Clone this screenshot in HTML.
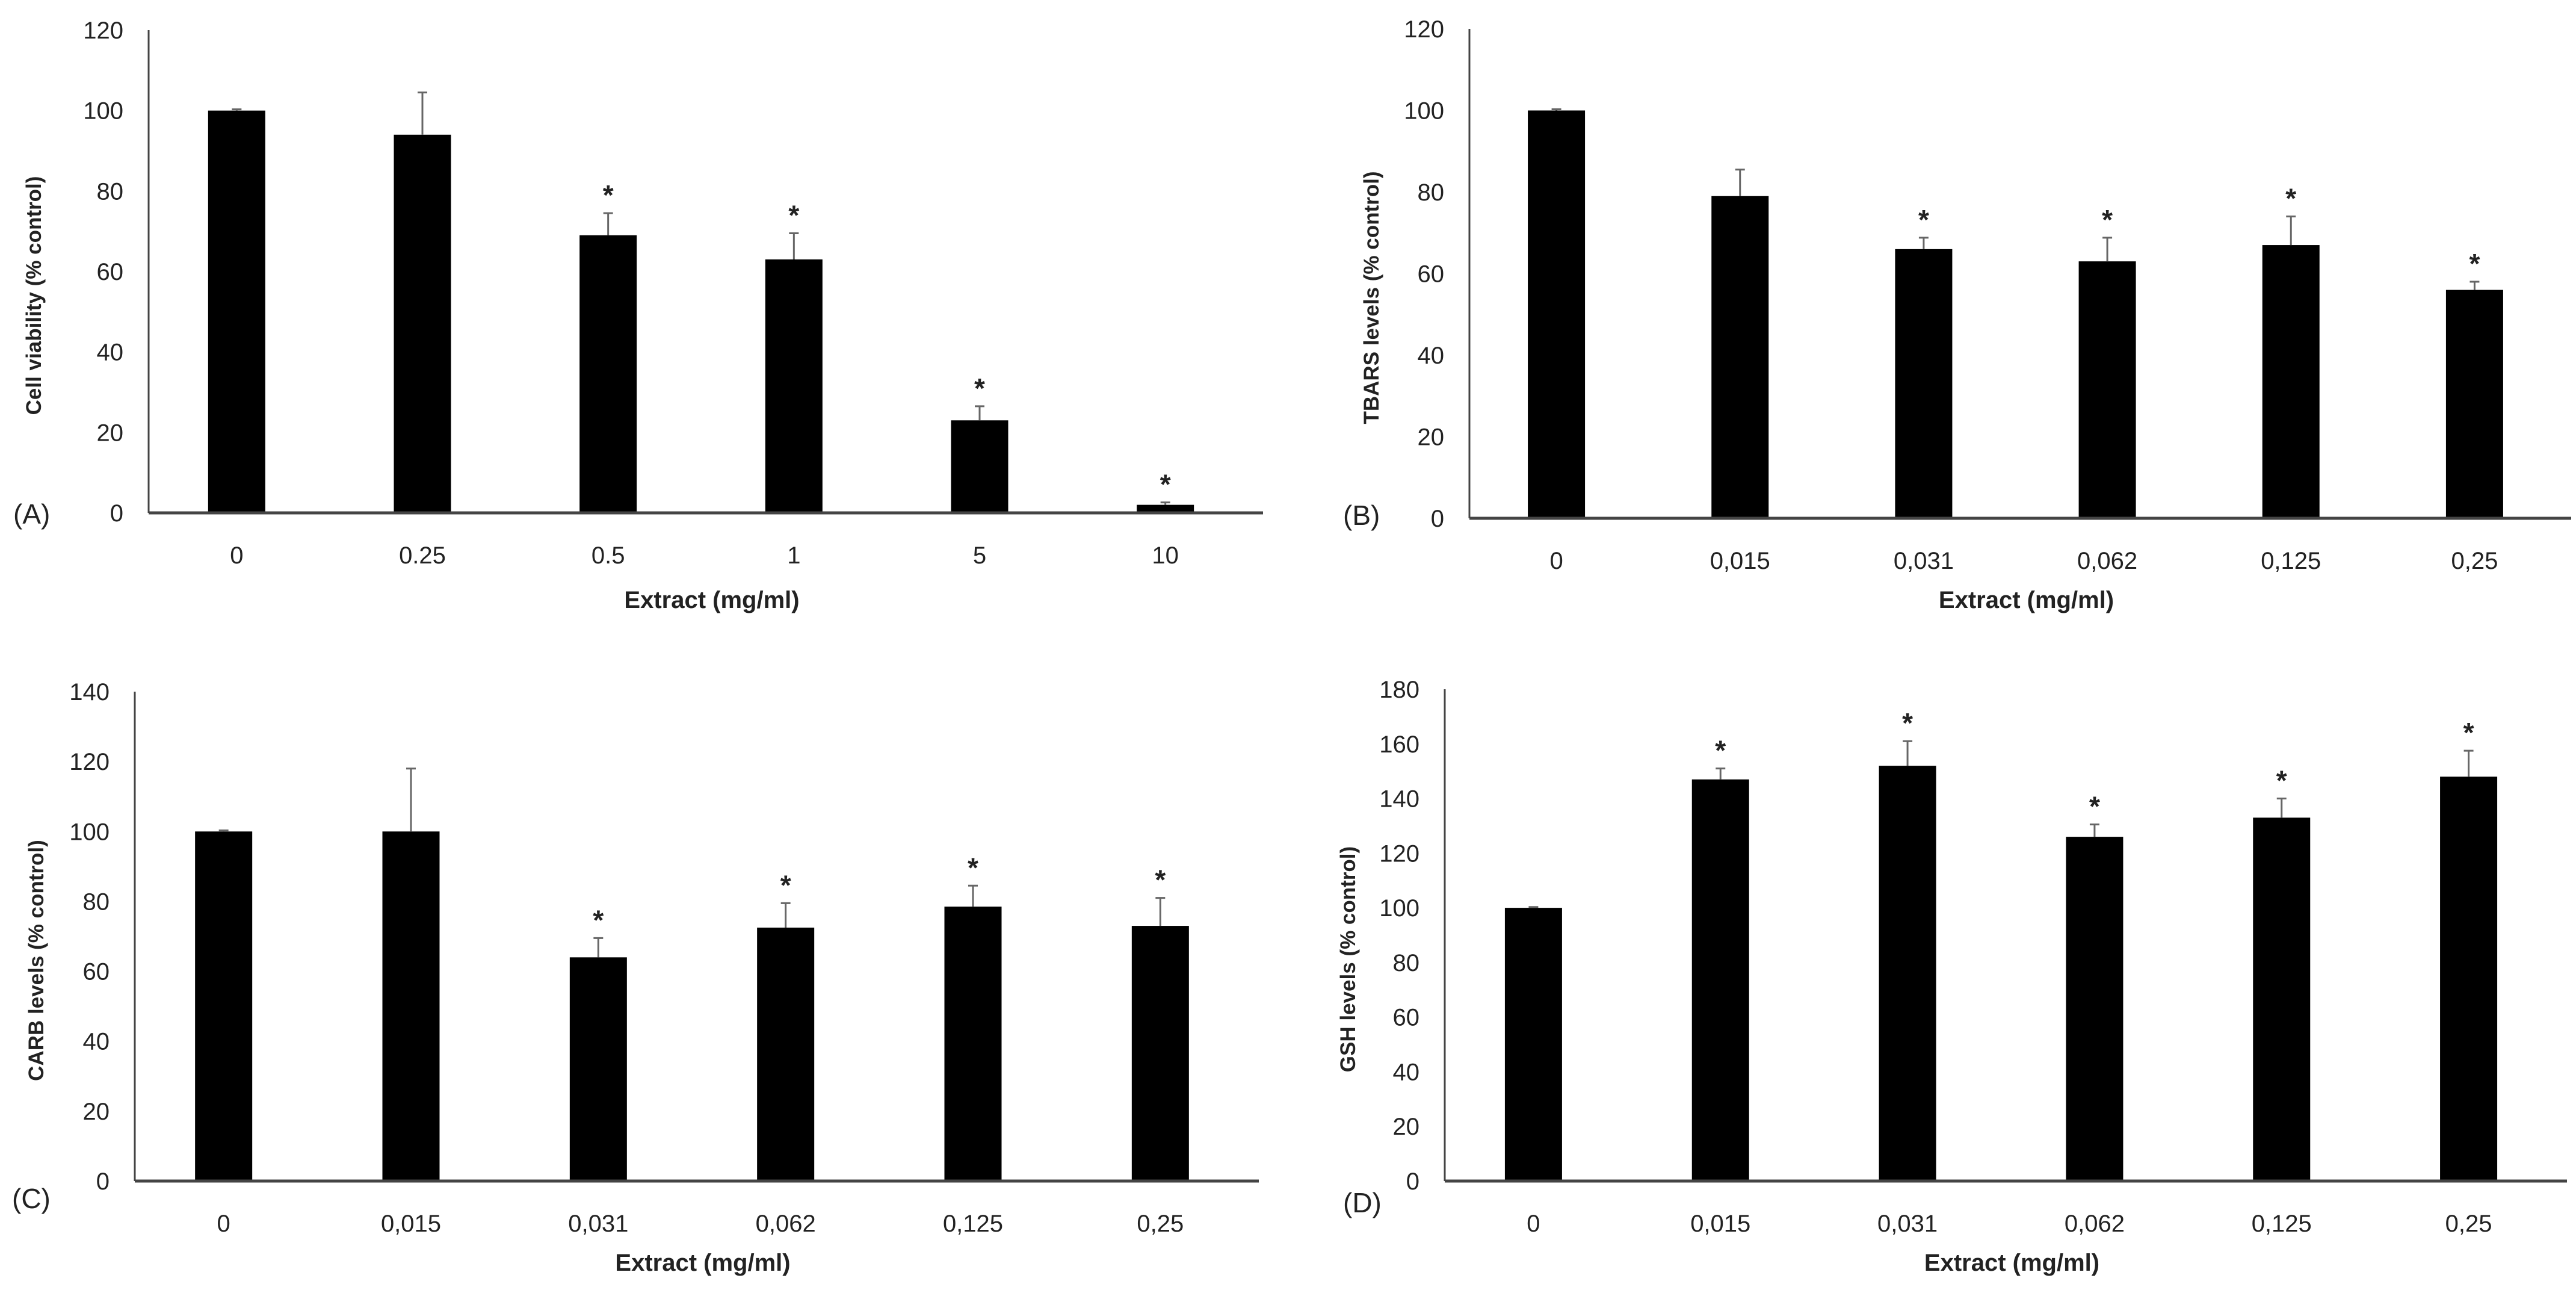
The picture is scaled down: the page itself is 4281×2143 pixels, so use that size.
<!DOCTYPE html>
<html><head><meta charset="utf-8"><style>
html,body{margin:0;padding:0;background:#fff;}
svg{display:block;}
text{font-family:"Liberation Sans",sans-serif;fill:#222;}
</style></head><body>
<svg id="fig" width="4281" height="2143" viewBox="0 0 4281 2143" xmlns="http://www.w3.org/2000/svg"></svg>
<script>
const categoriesA = ["0","0.25","0.5","1","5","10"];
const valuesA = [100,94,69,63,23,2];
const errorsA = [100.3,104.5,74.5,69.5,26.5,2.6];
const starsA = [false,false,true,true,true,true];
const ticksA = [0,20,40,60,80,100,120];

const categoriesB = ["0","0,015","0,031","0,062","0,125","0,25"];
const valuesB = [100,79,66,63,67,56];
const errorsB = [100.3,85.5,68.8,68.8,74,58];
const starsB = [false,false,true,true,true,true];
const ticksB = [0,20,40,60,80,100,120];

const categoriesC = ["0","0,015","0,031","0,062","0,125","0,25"];
const valuesC = [100,100,64,72.5,78.5,73];
const errorsC = [100.3,118,69.5,79.5,84.5,81];
const starsC = [false,false,true,true,true,true];
const ticksC = [0,20,40,60,80,100,120,140];

const categoriesD = ["0","0,015","0,031","0,062","0,125","0,25"];
const valuesD = [100,147,152,126,133,148];
const errorsD = [100.3,151,161,130.5,140,157.5];
const starsD = [false,true,true,true,true,true];
const ticksD = [0,20,40,60,80,100,120,140,160,180];

const NS="http://www.w3.org/2000/svg";
const svg=document.getElementById('fig');
function mk(tag,attrs,parent){const e=document.createElementNS(NS,tag);for(const k in attrs)e.setAttribute(k,attrs[k]);(parent||svg).appendChild(e);return e;}

const layouts=[
 {id:'a',label:'(A)',title:'Cell viability (% control)',cats:categoriesA,vals:valuesA,errs:errorsA,stars:starsA,ticks:ticksA,x0:247,x1:2099,yTop:50,yZero:852,labX:22,labY:870,titleX:68,xTitleY:1010},
 {id:'b',label:'(B)',title:'TBARS levels (% control)',cats:categoriesB,vals:valuesB,errs:errorsB,stars:starsB,ticks:ticksB,x0:2442,x1:4273,yTop:48,yZero:861,labX:2232,labY:872,titleX:2291,xTitleY:1010},
 {id:'c',label:'(C)',title:'CARB levels (% control)',cats:categoriesC,vals:valuesC,errs:errorsC,stars:starsC,ticks:ticksC,x0:224,x1:2092,yTop:1149,yZero:1962,labX:20,labY:2007,titleX:72,xTitleY:2111},
 {id:'d',label:'(D)',title:'GSH levels (% control)',cats:categoriesD,vals:valuesD,errs:errorsD,stars:starsD,ticks:ticksD,x0:2401,x1:4266,yTop:1145,yZero:1962,labX:2232,labY:2014,titleX:2252,xTitleY:2111}
];

layouts.forEach(p=>{
  const g=mk('g',{});
  
  
  const maxT=p.ticks[p.ticks.length-1];
  const y=v=>p.yZero-(v/maxT)*(p.yZero-p.yTop);
  const n=p.cats.length, band=(p.x1-p.x0)/n;
  const xc=i=>p.x0+band*(i+0.5)-8;
  const bw=95;
  // y tick labels
  p.ticks.forEach(t=>{
    const tl=mk('text',{x:p.x0-42,y:y(t)+14,'text-anchor':'end','font-size':40},g);
    
    
    tl.textContent=t;
  });
  // bars
  p.vals.forEach((v,i)=>{
    const r=mk('rect',{x:xc(i)-bw/2,y:y(v),width:bw,height:p.yZero-y(v),fill:'#000'},g);
    
    
    const et=y(p.errs[i]);
    const eb=mk('path',{d:`M${xc(i)} ${y(v)} V${et} M${xc(i)-8} ${et} H${xc(i)+8}`,stroke:'#666','stroke-width':3,fill:'none'},g);
    
    
    if(p.stars[i]){
      const s=mk('text',{x:xc(i),y:et-14,'text-anchor':'middle','font-size':46,'font-weight':'bold'},g);
      
      
      s.textContent='*';
    }
    const xl=mk('text',{x:xc(i),y:p.yZero+84,'text-anchor':'middle','font-size':40},g);
    
    
    xl.textContent=p.cats[i];
  });
  // axes
  const ya=mk('line',{x1:p.x0,y1:p.yTop,x2:p.x0,y2:p.yZero,stroke:'#444','stroke-width':3},g);
  
  
  const xa=mk('line',{x1:p.x0,y1:p.yZero,x2:p.x1,y2:p.yZero,stroke:'#444','stroke-width':5},g);
  
  
  // panel label
  const pl=mk('text',{x:p.labX,y:p.labY,'font-size':46},g);
  
  
  pl.textContent=p.label;
  // y title
  const cy=(p.yTop+p.yZero)/2+40;
  const yt=mk('text',{x:p.titleX,y:cy,'text-anchor':'middle','font-size':35,'font-weight':'bold',transform:`rotate(-90 ${p.titleX} ${cy})`},g);
  
  
  yt.textContent=p.title;
  // x title
  const xt=mk('text',{x:(p.x0+p.x1)/2+10,y:p.xTitleY,'text-anchor':'middle','font-size':40,'font-weight':'bold'},g);
  
  
  xt.textContent='Extract (mg/ml)';
});
</script>
</body></html>
